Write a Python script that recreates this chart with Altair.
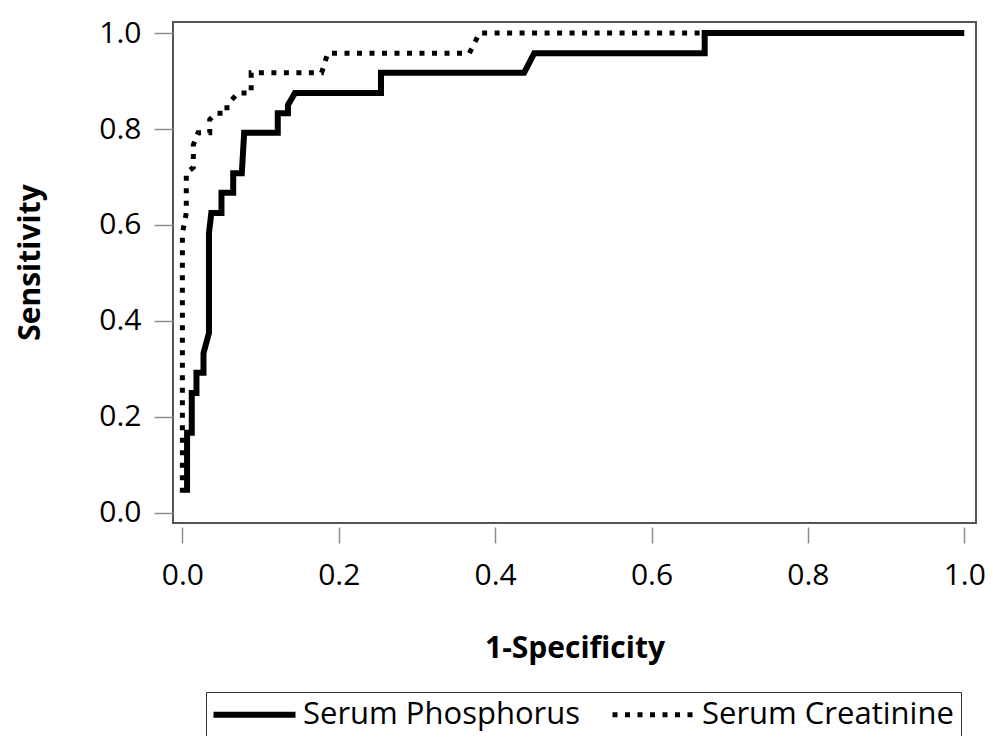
import altair as alt
import pandas as pd

series_names = ["Serum Phosphorus", "Serum Creatinine"]

phos_fpr = [0.006, 0.006, 0.012, 0.012, 0.018, 0.018, 0.027, 0.027, 0.034, 0.034,
            0.037, 0.050, 0.050, 0.065, 0.065, 0.076, 0.079, 0.122, 0.122, 0.135,
            0.135, 0.144, 0.254, 0.254, 0.437, 0.450, 0.668, 0.668, 1.0]
phos_tpr = [0.042, 0.167, 0.167, 0.250, 0.250, 0.292, 0.292, 0.333, 0.375, 0.583,
            0.625, 0.625, 0.667, 0.667, 0.708, 0.708, 0.792, 0.792, 0.833, 0.833,
            0.850, 0.875, 0.875, 0.917, 0.917, 0.958, 0.958, 1.0, 1.0]

cre_fpr = [0.0, 0.0, 0.005, 0.005, 0.014, 0.014, 0.020, 0.035, 0.035, 0.043,
           0.057, 0.057, 0.071, 0.088, 0.088, 0.178, 0.186, 0.367, 0.380, 1.0]
cre_tpr = [0.042, 0.583, 0.625, 0.708, 0.720, 0.767, 0.792, 0.792, 0.820, 0.833,
           0.833, 0.850, 0.875, 0.875, 0.917, 0.917, 0.958, 0.958, 1.0, 1.0]

x_ticks = [0.0, 0.2, 0.4, 0.6, 0.8, 1.0]
y_ticks = [0.0, 0.2, 0.4, 0.6, 0.8, 1.0]

rows = []
for i, (x, y) in enumerate(zip(phos_fpr, phos_tpr)):
    rows.append({"series": series_names[0], "fpr": x, "tpr": y, "idx": i})
for i, (x, y) in enumerate(zip(cre_fpr, cre_tpr)):
    rows.append({"series": series_names[1], "fpr": x, "tpr": y, "idx": i})
df = pd.DataFrame(rows)

FONT = "Open Sans"

chart = alt.Chart(df).mark_line(strokeCap="butt", strokeJoin="miter", color="black").encode(
    x=alt.X("fpr:Q",
            scale=alt.Scale(domain=[-0.012, 1.015], nice=False, zero=False),
            axis=alt.Axis(values=x_ticks, format=".1f", title="1-Specificity", offset=4,
                          domain=False, grid=False, tickSize=16, tickColor="#8c8c8c",
                          tickWidth=1.5, labelFontSize=30, labelFont=FONT, labelColor="black",
                          labelPadding=17, titleFontSize=30, titleFont=FONT,
                          titleFontWeight="bold", titleColor="black", titleY=130,
                          titleBaseline="alphabetic")),
    y=alt.Y("tpr:Q",
            scale=alt.Scale(domain=[-0.021, 1.023], nice=False, zero=False),
            axis=alt.Axis(values=y_ticks, format=".1f", title="Sensitivity",
                          domain=False, grid=False, tickSize=19, tickColor="#8c8c8c",
                          tickWidth=1.5, labelFontSize=30, labelFont=FONT, labelColor="black",
                          labelPadding=13, titleFontSize=30, titleFont=FONT,
                          titleFontWeight="bold", titleColor="black", titleX=-143, titleY=240,
                          titleAngle=270, titleBaseline="middle", titleAlign="center")),
    strokeDash=alt.StrokeDash("series:N",
                              scale=alt.Scale(domain=series_names, range=[[1, 0], [5, 7.5]]),
                              legend=alt.Legend(title=None, orient="none", legendX=33, legendY=670,
                                                direction="horizontal", symbolType="M-1.5,0L6.7,0",
                                                symbolSize=400, symbolStrokeWidth=5.5,
                                                symbolStrokeColor="black", labelFontSize=31,
                                                labelFont=FONT, labelColor="black", labelOffset=59,
                                                labelLimit=500, columnPadding=21, padding=7,
                                                strokeColor="#333333", fillColor="white")),
    strokeWidth=alt.StrokeWidth("series:N",
                                scale=alt.Scale(domain=series_names, range=[6, 5]), legend=None),
    order=alt.Order("idx:Q"),
).properties(
    width=803, height=501,
    padding={"left": 165, "top": 14, "right": 9, "bottom": 213},
    autosize=alt.AutoSizeParams(type="none"),
).configure_view(stroke="#555555", strokeWidth=2)

chart.save("out.html", embed_options={"renderer": "svg", "actions": False})
